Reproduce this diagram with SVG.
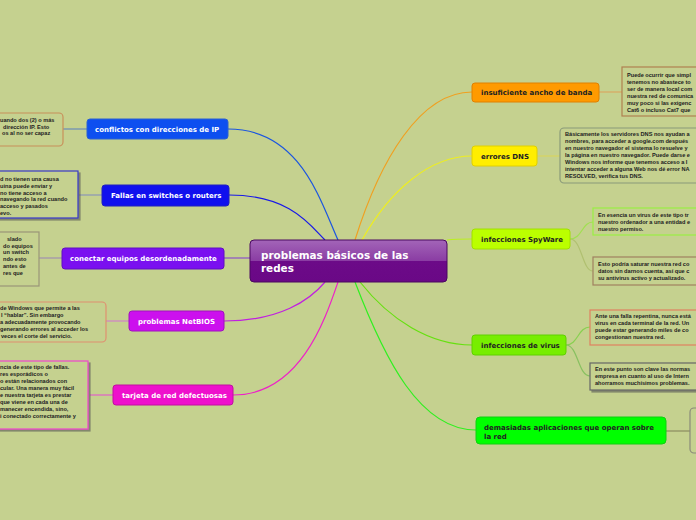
<svg xmlns="http://www.w3.org/2000/svg" width="696" height="520" viewBox="0 0 696 520">
<defs>
<linearGradient id="cg" x1="0" y1="0" x2="0" y2="1">
<stop offset="0" stop-color="#a365b8"/><stop offset="0.5" stop-color="#8a3ca3"/><stop offset="0.5" stop-color="#6c0a88"/><stop offset="1" stop-color="#6a0886"/>
</linearGradient>
<filter id="sh" x="-5%" y="-5%" width="115%" height="120%"><feDropShadow dx="2" dy="2" stdDeviation="0.6" flood-color="#555" flood-opacity="0.6"/></filter>
</defs>
<style>
.bg{fill:#c5d18f}
.n{stroke-width:1}
.nt{font-family:"DejaVu Sans",Verdana,sans-serif;font-weight:bold;font-size:7px;fill:#fff}
.dk{fill:#222}
.note{fill:#c5d18f;stroke-width:1.2}
.tx{font-family:"Liberation Sans",Arial,sans-serif;font-weight:bold;font-size:5.6px;fill:#222}
.c{fill:none;stroke-width:1.2}
</style>
<rect class="bg" width="696" height="520"/>
<g id="connectors">
<path class="c" d="M228,129 C300,129 320,200 338,240" stroke="#1a55e0"/>
<path class="c" d="M229,195 C290,195 310,225 325,240" stroke="#1818e8"/>
<path class="c" d="M224,258 L250,258" stroke="#8a50c8"/>
<path class="c" d="M224,321 C280,321 310,300 325,282" stroke="#c020e0"/>
<path class="c" d="M233,395 C300,395 325,320 338,282" stroke="#ee20c8"/>
<path class="c" d="M355,240 C380,160 420,92 472,92" stroke="#f0a020"/>
<path class="c" d="M362,240 C390,190 430,156 472,156" stroke="#eeee20"/>
<path class="c" d="M447,240 C455,239 462,239 472,239" stroke="#bbf020"/>
<path class="c" d="M360,282 C390,320 430,345 472,345" stroke="#66e010"/>
<path class="c" d="M355,282 C385,360 420,430 476,430" stroke="#30f020"/>
<path class="c" d="M63,129 L87,129" stroke="#6a8ab8"/>
<path class="c" d="M79,195 L102,195" stroke="#8a94b8"/>
<path class="c" d="M39,258 L62,258" stroke="#a090b0"/>
<path class="c" d="M106,321 L129,321" stroke="#d080c8"/>
<path class="c" d="M90,395 L113,395" stroke="#e060c8"/>
<path class="c" d="M599,92 L622,92" stroke="#d8a860"/>
<path class="c" d="M537,156 L560,156" stroke="#d8d460"/>
<path class="c" d="M570,239 C582,239 582,222 593,222" stroke="#a0e050"/>
<path class="c" d="M570,239 C582,239 582,271 593,271" stroke="#b0c070"/>
<path class="c" d="M566,345 C578,345 578,327 590,327" stroke="#88d050"/>
<path class="c" d="M566,345 C578,345 578,376 590,376" stroke="#88c060"/>
<path class="c" d="M666,431 L690,431" stroke="#8a8a60"/>
</g>
<g id="central">
<rect x="250" y="240" width="197" height="42" rx="4" fill="url(#cg)" stroke="#4a0860"/>
<text class="nt" style="font-size:10.4px" x="261" y="259">problemas básicos de las</text>
<text class="nt" style="font-size:10.4px" x="261" y="272">redes</text>
</g>
<g id="n-conflictos">
<rect class="n" x="87" y="119" width="141" height="20" rx="3" fill="#0d4ff0" stroke="#2a60d0"/>
<text class="nt" x="95" y="131.5">conflictos con direcciones de IP</text>
</g>
<g id="n-fallas">
<rect class="n" x="102" y="185" width="127" height="21" rx="3" fill="#1010ee" stroke="#2020c0"/>
<text class="nt" x="111" y="198">Fallas en switches o routers</text>
</g>
<g id="n-conectar">
<rect class="n" x="62" y="248" width="162" height="21" rx="3" fill="#7a10f0" stroke="#6010c0"/>
<text class="nt" x="70" y="261">conectar equipos desordenadamente</text>
</g>
<g id="n-netbios">
<rect class="n" x="129" y="311" width="95" height="20" rx="3" fill="#cc10ee" stroke="#a010c0"/>
<text class="nt" x="138" y="323.5">problemas NetBIOS</text>
</g>
<g id="n-tarjeta">
<rect class="n" x="113" y="385" width="120" height="20" rx="3" fill="#ee10cc" stroke="#c010a0"/>
<text class="nt" x="122" y="397.5">tarjeta de red defectuosas</text>
</g>
<g id="n-ancho">
<rect class="n" x="472" y="83" width="127" height="19" rx="3" fill="#ff9a00" stroke="#e08000"/>
<text class="nt dk" x="481" y="95">insuficiente ancho de banda</text>
</g>
<g id="n-dns">
<rect class="n" x="472" y="146" width="65" height="20" rx="3" fill="#ffee00" stroke="#e0d000"/>
<text class="nt dk" x="481" y="158.5">errores DNS</text>
</g>
<g id="n-spyware">
<rect class="n" x="472" y="229" width="98" height="20" rx="3" fill="#bbff00" stroke="#a0e000"/>
<text class="nt dk" x="481" y="241.5">infecciones SpyWare</text>
</g>
<g id="n-virus">
<rect class="n" x="472" y="335" width="94" height="20" rx="3" fill="#77ee00" stroke="#60d000"/>
<text class="nt dk" x="481" y="347.5">infecciones de virus</text>
</g>
<g id="n-demasiadas">
<rect class="n" x="476" y="417" width="190" height="27" rx="4" fill="#00ff00" stroke="#10d010"/>
<text class="nt dk" x="484" y="429.5">demasiadas aplicaciones que operan sobre</text>
<text class="nt dk" x="484" y="438.5">la red</text>
</g>
<g id="note-conflictos">
<rect class="note" x="-10" y="113" width="73" height="33" rx="4" stroke="#c8905a"/>
<text class="tx" x="0" y="122">uando dos (2) o más</text>
<text class="tx" x="3" y="128.5">dirección IP.  Esto</text>
<text class="tx" x="2" y="135">os al no ser capaz</text>
</g>
<g id="note-fallas">
<rect class="note" x="-10" y="171" width="88" height="47" stroke="#3838c8" filter="url(#sh)"/>
<text class="tx" x="0" y="181">d no tienen una causa</text>
<text class="tx" x="0" y="187.8">uina puede enviar y</text>
<text class="tx" x="0" y="194.6">no tiene acceso a</text>
<text class="tx" x="0" y="201.4">navegando la red cuando</text>
<text class="tx" x="0" y="208.2">acceso y pasados</text>
<text class="tx" x="0" y="215">evo.</text>
</g>
<g id="note-conectar">
<rect class="note" x="-10" y="232" width="49" height="54" stroke="#9a9478"/>
<text class="tx" x="7" y="241">slado</text>
<text class="tx" x="3" y="247.7">do equipos</text>
<text class="tx" x="3" y="254.4"> un switch</text>
<text class="tx" x="3" y="261.1">ndo esto</text>
<text class="tx" x="3" y="267.8"> antes de</text>
<text class="tx" x="3" y="274.5">res que</text>
</g>
<g id="note-netbios">
<rect class="note" x="-10" y="302" width="116" height="40" rx="4" stroke="#e09070"/>
<text class="tx" x="0" y="310">de Windows que permite a las</text>
<text class="tx" x="1" y="317">l “hablar”. Sin embargo</text>
<text class="tx" x="0" y="324">a adecuadamente provocando</text>
<text class="tx" x="0" y="331">generando errores al acceder los</text>
<text class="tx" x="1" y="338">veces el corte del servicio.</text>
</g>
<g id="note-tarjeta">
<rect class="note" x="-10" y="361" width="98" height="68" stroke="#ee44cc" filter="url(#sh)"/>
<text class="tx" x="0" y="369">ncia de este tipo de fallas.</text>
<text class="tx" x="0" y="376">res esporádicos o</text>
<text class="tx" x="0" y="383">o están relacionados con</text>
<text class="tx" x="0" y="390">cular. Una manera muy fácil</text>
<text class="tx" x="0" y="397">e nuestra tarjeta es prestar</text>
<text class="tx" x="0" y="404">que viene en cada una de</text>
<text class="tx" x="0" y="411">manecer encendida, sino,</text>
<text class="tx" x="0" y="418">i conectado correctamente y</text>
</g>
<g id="note-ancho">
<rect class="note" x="622" y="67" width="90" height="49" stroke="#b08050"/>
<text class="tx" x="627" y="77">Puede ocurrir que simpl</text>
<text class="tx" x="627" y="84">tenemos no abastece to</text>
<text class="tx" x="627" y="91">ser de manera local com</text>
<text class="tx" x="627" y="98">nuestra red de comunica</text>
<text class="tx" x="627" y="105">muy poco si las exigenc</text>
<text class="tx" x="627" y="112">Cat6 o incluso Cat7 que</text>
</g>
<g id="note-dns">
<rect class="note" x="560" y="128" width="150" height="55" rx="4" stroke="#8a9a7a"/>
<text class="tx" x="565" y="136">Básicamente los servidores DNS nos ayudan a</text>
<text class="tx" x="565" y="143">nombres, para acceder a google.com después</text>
<text class="tx" x="565" y="150">en nuestro navegador el sistema lo resuelve y</text>
<text class="tx" x="565" y="157">la página en nuestro navegador. Puede darse e</text>
<text class="tx" x="565" y="164">Windows nos informe que tenemos acceso a I</text>
<text class="tx" x="565" y="171">intentar acceder a alguna Web nos dé error NA</text>
<text class="tx" x="565" y="178">RESOLVED, verifica tus DNS.</text>
</g>
<g id="note-spy1">
<rect class="note" x="593" y="208" width="115" height="27" stroke="#99ee44"/>
<text class="tx" x="598" y="217">En esencia un virus de este tipo tr</text>
<text class="tx" x="598" y="224">nuestro ordenador a una entidad e</text>
<text class="tx" x="598" y="231">nuestro permiso.</text>
</g>
<g id="note-spy2">
<rect class="note" x="593" y="257" width="115" height="28" stroke="#a08060"/>
<text class="tx" x="598" y="266">Esto podría saturar nuestra red co</text>
<text class="tx" x="598" y="273">datos sin darnos cuenta, así que c</text>
<text class="tx" x="598" y="280">su antivirus activo y actualizado.</text>
</g>
<g id="note-virus1">
<rect class="note" x="590" y="310" width="118" height="35" stroke="#e08060"/>
<text class="tx" x="595" y="318">Ante una falla repentina, nunca está</text>
<text class="tx" x="595" y="325">virus en cada terminal de la red. Un</text>
<text class="tx" x="595" y="332">puede estar generando miles de co</text>
<text class="tx" x="595" y="339">congestionan nuestra red.</text>
</g>
<g id="note-virus2">
<rect class="note" x="590" y="363" width="118" height="27" stroke="#666" filter="url(#sh)"/>
<text class="tx" x="595" y="371">En este punto son clave las normas</text>
<text class="tx" x="595" y="378">empresa en cuanto al uso de Intern</text>
<text class="tx" x="595" y="385">ahorramos muchísimos problemas.</text>
</g>
<g id="note-demasiadas">
<rect class="note" x="690" y="408" width="20" height="45" rx="4" stroke="#8a8a7a"/>
</g>
</svg>
